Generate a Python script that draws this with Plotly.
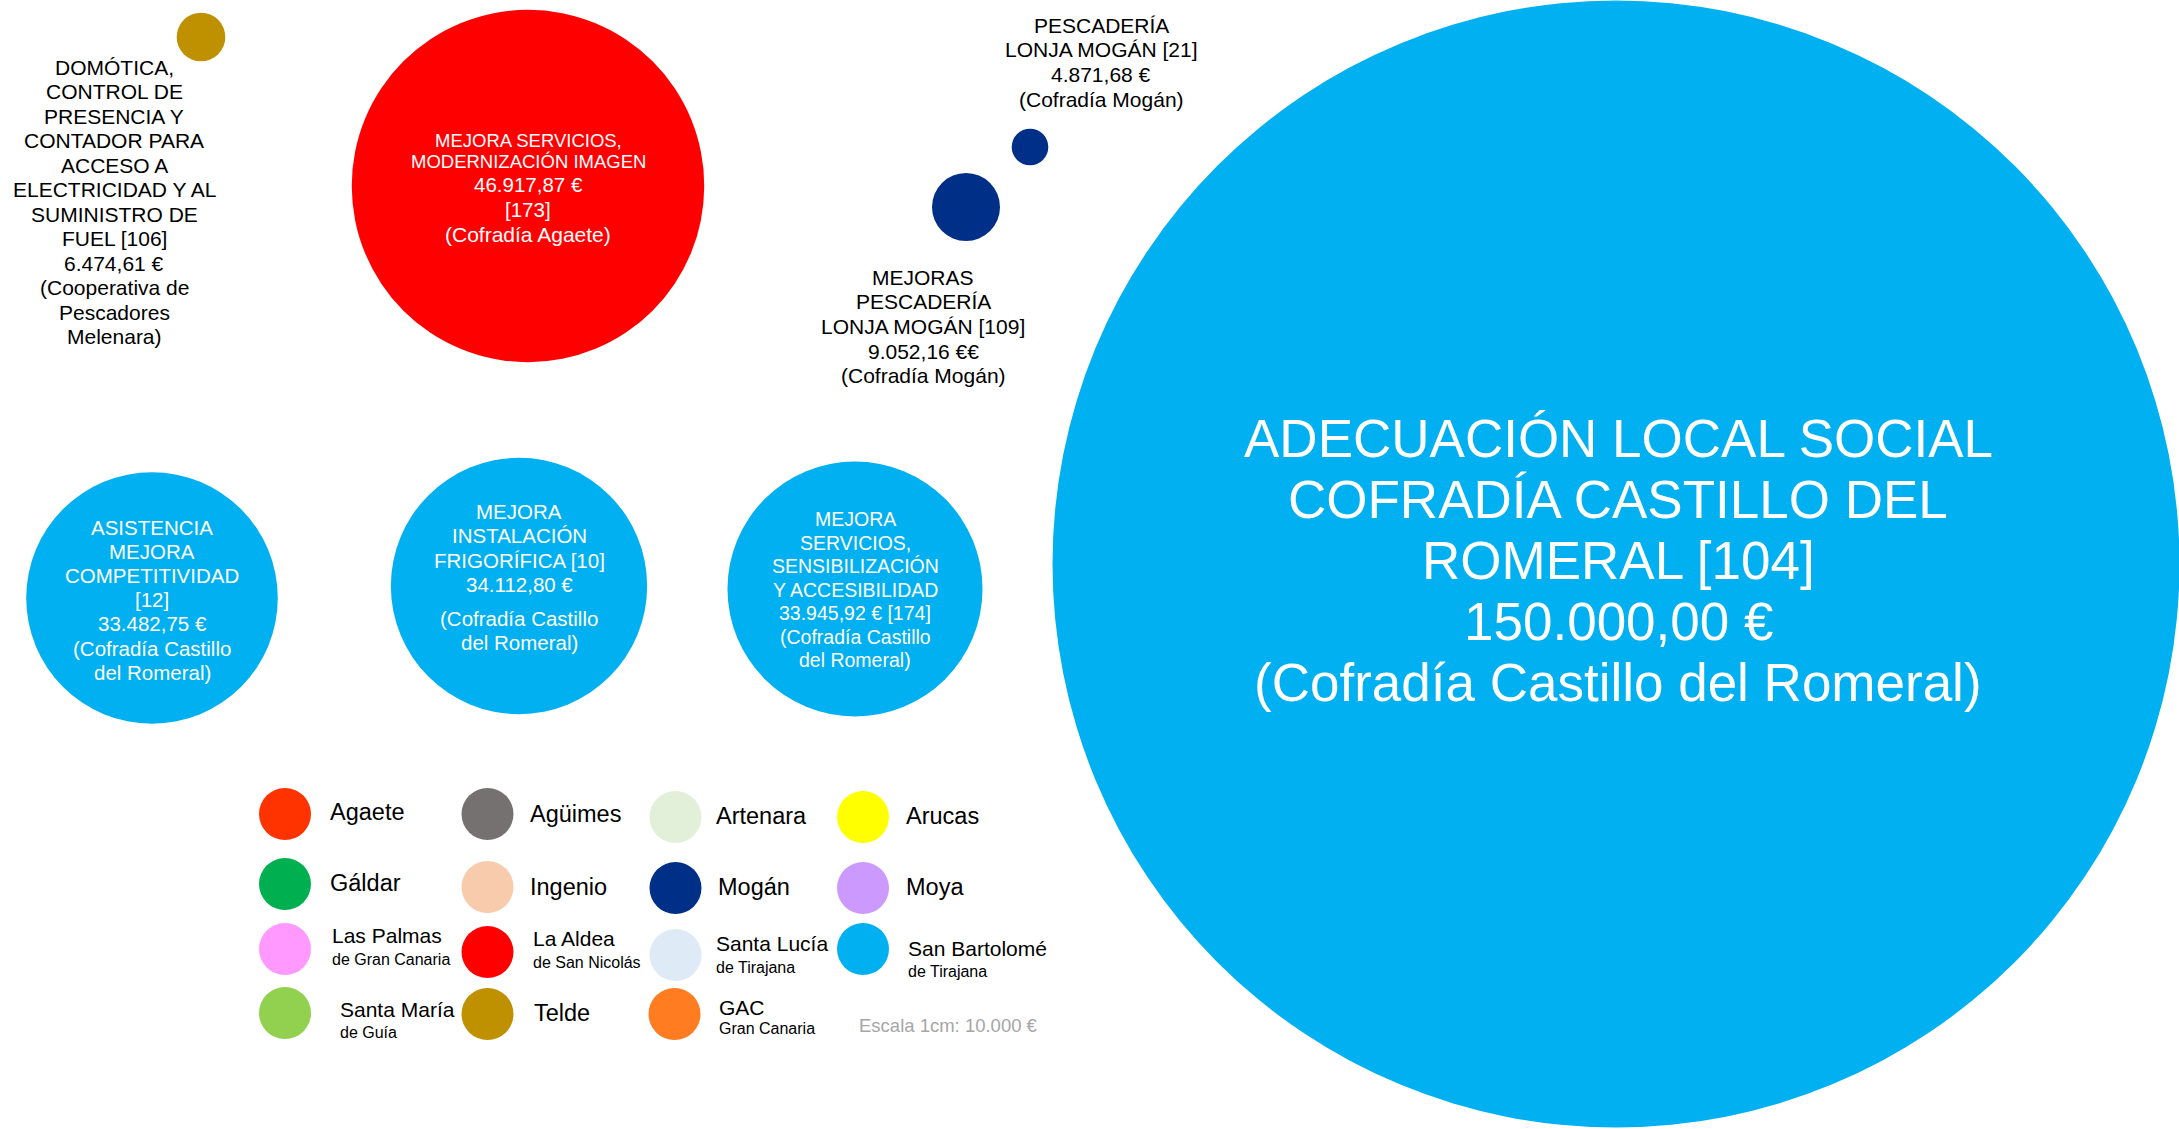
import plotly.graph_objects as go

W, H = 2179, 1129
FONT = "Liberation Sans, Arial, sans-serif"

# importes de los proyectos (euros)
amounts = [6474.61, 46917.87, 4871.68, 9052.16, 150000.00, 33482.75, 34112.80, 33945.92]
colors = ["#BF9000", "#FF0000", "#002F87", "#002F87", "#00B0F0", "#00B0F0", "#00B0F0", "#00B0F0"]
labels = [
    ["DOMÓTICA,", "CONTROL DE", "PRESENCIA Y", "CONTADOR PARA", "ACCESO A",
     "ELECTRICIDAD Y AL", "SUMINISTRO DE", "FUEL [106]", "6.474,61 €",
     "(Cooperativa de", "Pescadores", "Melenara)"],
    ["MEJORA SERVICIOS,", "MODERNIZACIÓN IMAGEN", "46.917,87 €", "[173]", "(Cofradía Agaete)"],
    ["PESCADERÍA", "LONJA MOGÁN [21]", "4.871,68 €", "(Cofradía Mogán)"],
    ["MEJORAS", "PESCADERÍA", "LONJA MOGÁN [109]", "9.052,16 €€", "(Cofradía Mogán)"],
    ["ADECUACIÓN LOCAL SOCIAL", "COFRADÍA CASTILLO DEL", "ROMERAL [104]",
     "150.000,00 €", "(Cofradía Castillo del Romeral)"],
    ["ASISTENCIA", "MEJORA", "COMPETITIVIDAD", "[12]", "33.482,75 €",
     "(Cofradía Castillo", "del Romeral)"],
    ["MEJORA", "INSTALACIÓN", "FRIGORÍFICA [10]", "34.112,80 €", "",
     "(Cofradía Castillo", "del Romeral)"],
    ["MEJORA", "SERVICIOS,", "SENSIBILIZACIÓN", "Y ACCESIBILIDAD", "33.945,92 € [174]",
     "(Cofradía Castillo", "del Romeral)"],
]

# leyenda por municipio
municipios = ["Agaete", "Agüimes", "Artenara", "Arucas",
              "Gáldar", "Ingenio", "Mogán", "Moya",
              "Las Palmas", "La Aldea", "Santa Lucía", "San Bartolomé",
              "Santa María", "Telde", "GAC"]
municipios_sub = ["", "", "", "", "", "", "", "",
                  "de Gran Canaria", "de San Nicolás", "de Tirajana", "de Tirajana",
                  "de Guía", "", "Gran Canaria"]
municipio_colors = ["#FF3300", "#767171", "#E2F0D9", "#FFFF00",
                    "#00B050", "#F8CBAD", "#002F87", "#CC99FF",
                    "#FF99FF", "#FF0000", "#DEEBF7", "#00B0F0",
                    "#92D050", "#BF9000", "#FF7C21"]

# posicion de cada burbuja en el lienzo
pos_x = [201, 528, 1030, 966, 1616, 152, 519, 855]
pos_y = [37, 186, 147, 207, 564, 598, 586, 589]

# bloques de texto: x, y de la primera linea, interlineado, tamaño, color
text_layout = [
    (114, 67, 24.5, 21, "black"),
    (528, 140, None, None, "white"),
    (1101, 25, 24.7, 21, "black"),
    (923, 277, 24.7, 21, "black"),
    (1618, 438, 61, 53, "white"),
    (152, 527, 24.2, 20.5, "white"),
    (519, 511, 24.5, 20.5, "white"),
    (855, 519, 23.5, 19.5, "white"),
]

PX_PER_EURO = 1127 / 150000  # escala de diametro

fig = go.Figure()
fig.add_trace(go.Scatter(
    x=pos_x, y=pos_y, mode="markers", cliponaxis=False, hoverinfo="skip",
    marker=dict(size=[a * PX_PER_EURO for a in amounts], color=colors,
                line=dict(width=0), opacity=1),
))

anns = []


def txt(s, x, y, size, color, xanchor="center"):
    anns.append(dict(x=x, y=y, xref="x", yref="y", text=s, showarrow=False,
                     xanchor=xanchor, yanchor="middle",
                     font=dict(family=FONT, size=size, color=color)))


for lines, (x0, y0, dy, fs, col) in zip(labels, text_layout):
    if dy is None:
        # bloque del circulo rojo: dos tamaños de letra
        ys = [140, 161, 184, 209, 234]
        ss = [18.5, 18.5, 20.5, 20.5, 21]
        for s, y, f in zip(lines, ys, ss):
            txt(s, x0, y, f, col)
        continue
    y = y0
    for i, s in enumerate(lines):
        if s == "":
            y += 9
            continue
        txt(s, x0, y, fs, col)
        y += dy

# leyenda
leg_cx = [285, 487.5, 675.5, 863] * 3 + [285, 487.5, 674.5]
leg_cy = [814, 814, 817, 817, 884, 887, 888, 888, 949, 952, 955, 949, 1013, 1014, 1014]
fig.add_trace(go.Scatter(
    x=leg_cx, y=leg_cy, mode="markers", hoverinfo="skip", cliponaxis=False,
    marker=dict(size=52, color=municipio_colors, line=dict(width=0)),
))
lab_x = [328, 528, 714, 904, 328, 528, 716, 904, 330, 531, 714, 906, 338, 532, 717]
lab_y = [812, 814, 816, 816, 883, 887, 887, 887, 935, 938, 943, 948, 1009, 1013, 1007]
sub_dy = [0, 0, 0, 0, 0, 0, 0, 0, 24, 24, 24, 23, 23, 0, 21]
for name, sub, lx, ly, d in zip(municipios, municipios_sub, lab_x, lab_y, sub_dy):
    txt(name, lx, ly, 23.5 if not sub else 21, "black", xanchor="left")
    if sub:
        txt(sub, lx, ly + d, 16, "black", xanchor="left")

txt("Escala 1cm: 10.000 €", 948, 1025, 18.5, "#A6A6A6")

fig.update_layout(
    width=W, height=H, margin=dict(l=0, r=0, t=0, b=0),
    paper_bgcolor="white", plot_bgcolor="white", showlegend=False,
    xaxis=dict(range=[0, W], visible=False, fixedrange=True),
    yaxis=dict(range=[H, 0], visible=False, fixedrange=True),
    annotations=anns,
)

fig.write_html("out.html", config={"displayModeBar": False},
               post_script="document.body.style.margin='0';document.body.style.overflow='hidden';")
